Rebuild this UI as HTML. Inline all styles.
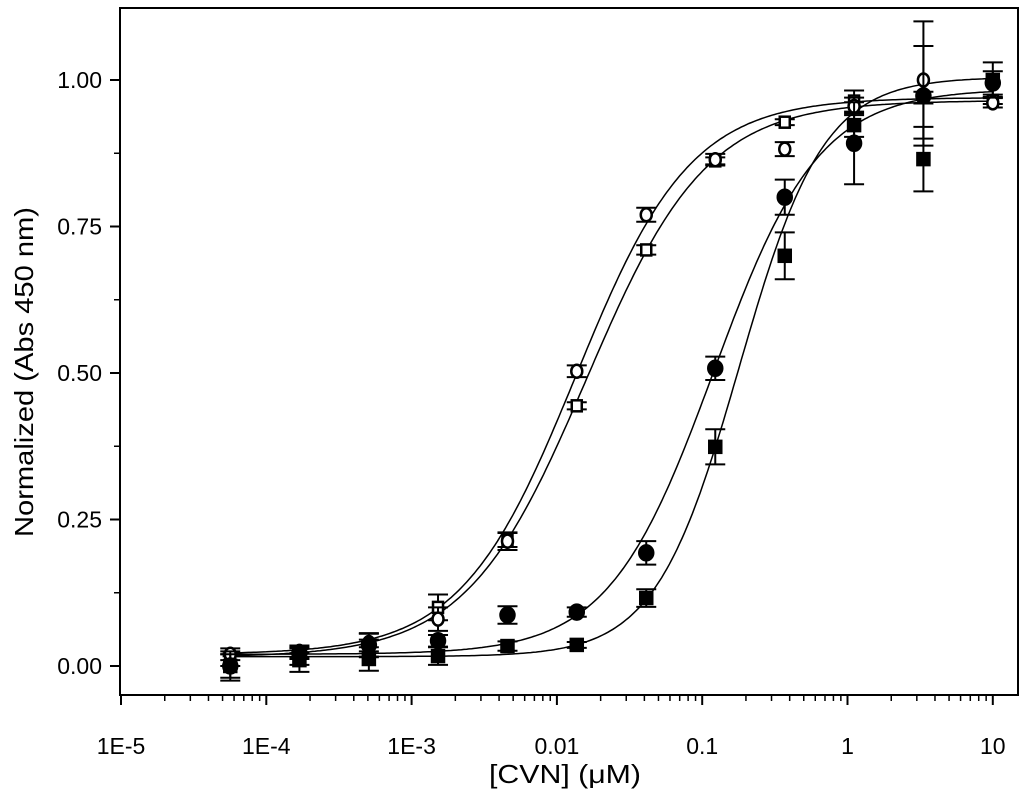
<!DOCTYPE html>
<html><head><meta charset="utf-8"><style>
html,body{margin:0;padding:0;background:#fff;}
svg{display:block;font-family:"Liberation Sans",Arial,sans-serif;}
</style></head><body>
<svg id="chart" width="1024" height="799" viewBox="0 0 1024 799" xmlns="http://www.w3.org/2000/svg">
<rect x="0" y="0" width="1024" height="799" fill="#fff"/>
<rect x="120" y="8" width="898" height="687" fill="none" stroke="#000" stroke-width="2"/>
<g id="axes"></g>
<g id="curves"></g>
<g id="marks"></g>
<text x="565" y="783" font-size="26" text-anchor="middle" textLength="152" lengthAdjust="spacingAndGlyphs">[CVN] (μM)</text>
<text transform="translate(33,372) rotate(-90)" font-size="26" text-anchor="middle" textLength="330" lengthAdjust="spacingAndGlyphs">Normalized (Abs 450 nm)</text>
</svg>
<script>
const concentrations=[0.0000565,0.000169,0.000508,0.00152,0.00457,0.0137,0.0412,0.123,0.370,1.11,3.33,10];
const openCircle=[0.02,0.025,0.04,0.08,0.213,0.503,0.77,0.864,0.882,0.955,1.0,0.961];
const openCircleErr=[0.01,0.01,0.015,0.02,0.015,0.01,0.012,0.01,0.012,0.015,0.1,0.008];
const openSquare=[0.01,0.012,0.03,0.10,0.215,0.444,0.71,0.862,0.928,0.964,0.97,0.965];
const openSquareErr=[0.01,0.01,0.015,0.022,0.012,0.006,0.008,0.006,0.005,0.018,0.01,0.006];
const filledCircle=[0.0,0.022,0.036,0.043,0.087,0.092,0.193,0.508,0.80,0.892,0.973,0.995];
const filledCircleErr=[0.02,0.01,0.02,0.01,0.015,0.008,0.02,0.02,0.03,0.07,0.085,0.02];
const filledSquare=[0.0,0.01,0.012,0.017,0.034,0.036,0.116,0.374,0.70,0.923,0.865,1.0];
const filledSquareErr=[0.025,0.02,0.02,0.015,0.008,0.005,0.015,0.03,0.04,0.02,0.055,0.03];
const fitOpenCircle=[0.02,0.97,0.0135,1.1];
const fitOpenSquare=[0.015,0.965,0.016,1.05];
const fitFilledCircle=[0.02,0.985,0.12,1.2];
const fitFilledSquare=[0.016,1.005,0.18,1.5];
const xTickLabels=["1E-5","1E-4","1E-3","0.01","0.1","1","10"];
const yTickValues=[0,0.25,0.5,0.75,1.0];
const yTickLabels=["0.00","0.25","0.50","0.75","1.00"];

const NS="http://www.w3.org/2000/svg";
function xs(v){return 121+145.3*(Math.log10(v)+5);}
function ys(v){return 666-586*v;}
function mk(tag,attrs,parent){const e=document.createElementNS(NS,tag);for(const k in attrs)e.setAttribute(k,attrs[k]);parent.appendChild(e);return e;}
const axes=document.getElementById('axes');
xTickLabels.forEach((lab,i)=>{
  const d=i-5, x=xs(Math.pow(10,d));
  const t=mk('line',{x1:x,x2:x,y1:695,y2:705,stroke:'#000','stroke-width':2},axes);
  
  
  const tx=mk('text',{x:x,y:754,'font-size':23,'text-anchor':'middle'},axes);
  tx.textContent=lab;
  
  
  if(i<xTickLabels.length-1){
    for(let m=2;m<=9;m++){
      const xm=xs(m*Math.pow(10,d));
      const mt=mk('line',{x1:xm,x2:xm,y1:695,y2:701,stroke:'#000','stroke-width':1.5},axes);
      
      
    }
  }
});
yTickValues.forEach((v,i)=>{
  const y=ys(v);
  const t=mk('line',{x1:110,x2:120,y1:y,y2:y,stroke:'#000','stroke-width':2},axes);
  
  
  const tx=mk('text',{x:102,y:y+8,'font-size':23,'text-anchor':'end'},axes);
  tx.textContent=yTickLabels[i];
  
  
});
[-0.125,0.125,0.375,0.625,0.875,1.125].forEach(v=>{
  const y=ys(v); if(y<8||y>695) return;
  const t=mk('line',{x1:114,x2:120,y1:y,y2:y,stroke:'#000','stroke-width':1.5},axes);
  
  
});
const curves=document.getElementById('curves');
function fitPath(p){
  let d='';
  for(let i=0;i<=300;i++){
    const lx=-4.3+i*(5.3/300), c=Math.pow(10,lx);
    const v=p[0]+(p[1]-p[0])/(1+Math.pow(p[2]/c,p[3]));
    d+=(i?'L':'M')+xs(c).toFixed(1)+','+ys(v).toFixed(1);
  }
  return d;
}
[[fitOpenCircle,'fit-curve-open-circle'],[fitOpenSquare,'fit-curve-open-square'],[fitFilledCircle,'fit-curve-filled-circle'],[fitFilledSquare,'fit-curve-filled-square']].forEach(([p,n])=>{
  const e=mk('path',{d:fitPath(p),fill:'none',stroke:'#000','stroke-width':1.5},curves);
  
  
});
const marks=document.getElementById('marks');
function series(vals,errs,shape,filled,name){
  const g=mk('g',{},marks);
  
  
  vals.forEach((v,i)=>{
    const x=xs(concentrations[i]),y=ys(v),e=errs[i]*586;
    const eb=mk('path',{d:`M${x},${y-e}L${x},${y+e}M${x-10},${y-e}L${x+10},${y-e}M${x-10},${y+e}L${x+10},${y+e}`,stroke:'#000','stroke-width':2,fill:'none'},g);
    
    
    let m;
    if(shape==='circle') m=mk('ellipse',{cx:x,cy:y,rx:filled?7:5.5,ry:filled?7.5:6.5,fill:filled?'#000':'#fff',stroke:'#000','stroke-width':2.5},g);
    else m=mk('rect',{x:x-(filled?6:5),y:y-(filled?6:5.5),width:filled?12:10,height:filled?12:11,fill:filled?'#000':'#fff',stroke:'#000','stroke-width':2.5},g);
    
    
  });
}
series(openSquare,openSquareErr,'square',false,'series-open-square');
series(openCircle,openCircleErr,'circle',false,'series-open-circle');
series(filledSquare,filledSquareErr,'square',true,'series-filled-square');
series(filledCircle,filledCircleErr,'circle',true,'series-filled-circle');
</script>
</body></html>
